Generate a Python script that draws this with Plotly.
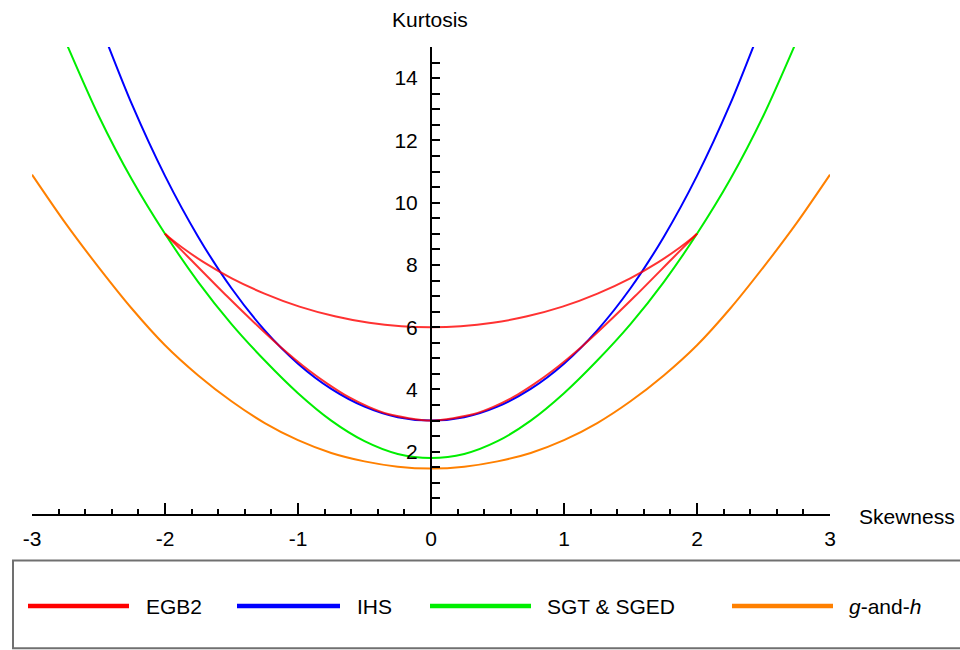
import plotly.graph_objects as go

# ---------------- data ----------------
ihs_skew = [-2.5, -2.25, -2.0, -1.75, -1.5, -1.25, -1.0, -0.75, -0.5, -0.25, 0.0,
            0.25, 0.5, 0.75, 1.0, 1.25, 1.5, 1.75, 2.0, 2.25, 2.5]
ihs_kurt = [15.85, 13.17, 10.86, 8.90, 7.25, 5.90, 4.83, 4.02, 3.45, 3.11, 3.00,
            3.11, 3.45, 4.02, 4.83, 5.90, 7.25, 8.90, 10.86, 13.17, 15.85]

egb2_up_skew = [-2.0, -1.968, -1.871, -1.710, -1.498, -1.252, -0.989, -0.723, -0.465, -0.223, 0.0,
                0.223, 0.465, 0.723, 0.989, 1.252, 1.498, 1.710, 1.871, 1.968, 2.0]
egb2_up_kurt = [9.00, 8.88, 8.56, 8.09, 7.57, 7.08, 6.66, 6.35, 6.14, 6.03, 6.00,
                6.03, 6.14, 6.35, 6.66, 7.08, 7.57, 8.09, 8.56, 8.88, 9.00]

egb2_lo_skew = [-2.0, -1.960, -1.813, -1.535, -1.308, -1.140, -0.917, -0.780, -0.621, -0.469, -0.324, 0.0,
                0.324, 0.469, 0.621, 0.780, 0.917, 1.140, 1.308, 1.535, 1.813, 1.960, 2.0]
egb2_lo_kurt = [9.00, 8.83, 8.20, 7.00, 6.06, 5.40, 4.61, 4.19, 3.76, 3.44, 3.21, 3.00,
                3.21, 3.44, 3.76, 4.19, 4.61, 5.40, 6.06, 7.00, 8.20, 8.83, 9.00]

sgt_skew = [-2.75, -2.5, -2.25, -2.0, -1.75, -1.5, -1.25, -1.0, -0.75, -0.5, -0.25, 0.0,
            0.25, 0.5, 0.75, 1.0, 1.25, 1.5, 1.75, 2.0, 2.25, 2.5, 2.75]
sgt_kurt = [15.20, 12.80, 10.75, 9.00, 7.45, 6.10, 4.93, 3.88, 3.00, 2.34, 1.93, 1.80,
            1.93, 2.34, 3.00, 3.88, 4.93, 6.10, 7.45, 9.00, 10.75, 12.80, 15.20]

gh_skew = [-3.0, -2.75, -2.5, -2.25, -2.0, -1.75, -1.5, -1.25, -1.0, -0.75, -0.5, -0.25, 0.0,
           0.25, 0.5, 0.75, 1.0, 1.25, 1.5, 1.75, 2.0, 2.25, 2.5, 2.75, 3.0]
gh_kurt = [10.90, 9.35, 7.93, 6.60, 5.42, 4.45, 3.62, 2.92, 2.37, 1.96, 1.69, 1.52, 1.46,
           1.52, 1.69, 1.96, 2.37, 2.92, 3.62, 4.45, 5.42, 6.60, 7.93, 9.35, 10.90]

legend_names = ["EGB2", "IHS", "SGT &amp; SGED", "<i>g</i>-and-<i>h</i>"]
colors = ["#ff0000", "#0000ff", "#00ee00", "#ff8000"]

x_ticks = [-3, -2, -1, 0, 1, 2, 3]
y_ticks = [2, 4, 6, 8, 10, 12, 14]

# ---------------- layout geometry ----------------
W, H = 960, 650
L, R, T, B = 32, 130, 46.5, 135.5
PW, PH = W - L - R, H - T - B
FONT = "Liberation Sans, Arial, sans-serif"


def px(xp):
    return (xp - L) / PW


def py(yp):
    return (H - B - yp) / PH


fig = go.Figure()

fig.add_trace(go.Scatter(x=gh_skew, y=gh_kurt, mode="lines", line=dict(color=colors[3], width=2, shape="spline", smoothing=0.8), showlegend=False))
fig.add_trace(go.Scatter(x=sgt_skew, y=sgt_kurt, mode="lines", line=dict(color=colors[2], width=2, shape="spline", smoothing=0.8), showlegend=False))
fig.add_trace(go.Scatter(x=ihs_skew, y=ihs_kurt, mode="lines", line=dict(color=colors[1], width=2, shape="spline", smoothing=0.8), showlegend=False))
fig.add_trace(go.Scatter(x=egb2_up_skew, y=egb2_up_kurt, mode="lines", opacity=0.8, line=dict(color=colors[0], width=2, shape="spline", smoothing=0.8), showlegend=False))
fig.add_trace(go.Scatter(x=egb2_lo_skew, y=egb2_lo_kurt, mode="lines", opacity=0.8, line=dict(color=colors[0], width=2, shape="spline", smoothing=0.8), showlegend=False))

# custom legend box
shapes = [dict(type="rect", xref="paper", yref="paper", x0=px(13), x1=px(966), y0=py(649), y1=py(561),
               line=dict(color="#707070", width=2), fillcolor="rgba(0,0,0,0)")]
leg_line_x = [(28, 129), (237, 340), (430, 531), (732, 833)]
leg_text_x = [144, 355, 545, 847]
leg_y = 606.7
annotations = []
for i in range(4):
    shapes.append(dict(type="line", xref="paper", yref="paper", x0=px(leg_line_x[i][0]), x1=px(leg_line_x[i][1]),
                       y0=py(leg_y), y1=py(leg_y), line=dict(color=colors[i], width=4.5)))
    annotations.append(dict(text=legend_names[i], xref="paper", yref="paper", x=px(leg_text_x[i]), y=py(leg_y),
                            xanchor="left", yanchor="middle", showarrow=False,
                            font=dict(family=FONT, size=21, color="black")))

annotations.append(dict(text="Kurtosis", xref="paper", yref="paper", x=px(430), y=py(19),
                        xanchor="center", yanchor="middle", showarrow=False,
                        font=dict(family=FONT, size=21, color="black")))
annotations.append(dict(text="Skewness", xref="paper", yref="paper", x=px(857), y=py(517),
                        xanchor="left", yanchor="middle", showarrow=False,
                        font=dict(family=FONT, size=21, color="black")))

fig.update_layout(
    width=W, height=H,
    margin=dict(l=L, r=R, t=T, b=B),
    paper_bgcolor="white", plot_bgcolor="white",
    shapes=shapes, annotations=annotations,
    font=dict(family=FONT, size=21, color="black"),
    xaxis=dict(range=[-3, 3], tickvals=x_ticks, ticktext=[str(v) for v in x_ticks],
               ticks="inside", ticklen=11, tickwidth=1.8, tickcolor="black",
               minor=dict(dtick=0.2, tick0=0, ticks="inside", ticklen=5, tickwidth=1.8, tickcolor="black"),
               showline=True, linewidth=2, linecolor="black", showgrid=False, zeroline=False,
               ticklabelstandoff=5, tickfont=dict(family=FONT, size=21, color="black")),
    yaxis=dict(range=[0, 15], tickvals=y_ticks, ticktext=[str(v) for v in y_ticks],
               anchor="free", position=0.5, side="left",
               ticks="inside", ticklen=8, tickwidth=1.8, tickcolor="black",
               minor=dict(dtick=0.5, tick0=0, ticks="inside", ticklen=8, tickwidth=1.8, tickcolor="black"),
               showline=True, linewidth=2, linecolor="black", showgrid=False, zeroline=False,
               ticklabelstandoff=8, tickfont=dict(family=FONT, size=21, color="black")),
)

fig.write_html("out.html")
